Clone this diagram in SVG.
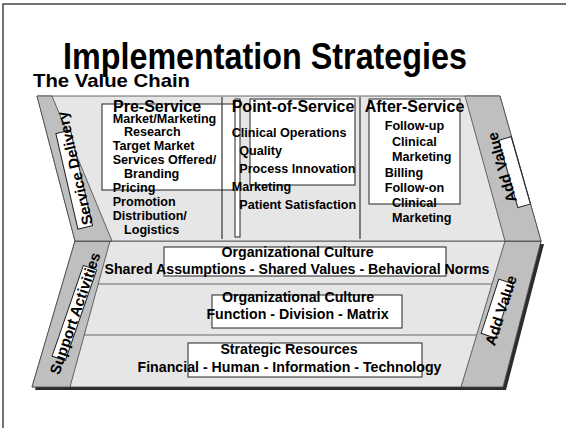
<svg xmlns="http://www.w3.org/2000/svg" width="566" height="428" viewBox="0 0 566 428">
  <style>
    text { font-family: "Liberation Sans", Arial, sans-serif; font-weight: bold; fill: #000; }
    .band { fill: #e6e6e6; stroke: #444; stroke-width: 0.8; }
    .strip { fill: #bfbfbf; stroke: #444; stroke-width: 0.8; }
    .shadow { fill: #2b2b2b; }
    .tbox { fill: #fff; stroke: #222; stroke-width: 1; }
    .div { stroke: #333; stroke-width: 1.2; fill: none; }
    .row { stroke: #666; stroke-width: 1; fill: none; }
    .head { font-size: 16px; }
    .item { font-size: 12.6px; }
    .low { font-size: 14.2px; text-anchor: middle; }
    .side { font-size: 15px; text-anchor: middle; }
    .frame { stroke: #444; stroke-width: 1.5; fill: none; }
  </style>

  <!-- slide frame -->
  <path class="frame" d="M3,428 V4 H566"/>

  <!-- titles -->
  <g id="title">
    <text x="63" y="69" font-size="37" textLength="404" lengthAdjust="spacingAndGlyphs">Implementation Strategies</text>
    <text x="33" y="87" font-size="19" textLength="157" lengthAdjust="spacingAndGlyphs">The Value Chain</text>
  </g>

  <!-- support activities band (lower chevron) -->
  <g id="support-band">
    <polygon class="shadow" points="78,244 544,244 506,390 35,390"/>
    <polygon class="band" points="75,241 541,241 503,387 32,387"/>
    <polygon class="strip" points="75,241 110,241 70,387 32,387"/>
    <polygon class="strip" points="505,241 541,241 503,387 461,387"/>
    <line class="row" x1="98" y1="284" x2="492" y2="284"/>
    <line class="row" x1="84" y1="335" x2="477" y2="335"/>
  </g>

  <!-- service delivery band (upper chevron) -->
  <g id="service-band">
    <polygon class="band" points="37,96 500,96 541,241 75,241"/>
    <polygon class="strip" points="37,96 52,96 112,241 75,241"/>
    <polygon class="strip" points="465,96 500,96 541,241 505,241"/>
  </g>

  <!-- side labels -->
  <g id="label-service-delivery" transform="translate(80,167) rotate(-103)">
    <rect class="tbox" x="-60" y="-16" width="98" height="15"/>
    <text class="side" x="0" y="0">Service Delivery</text>
  </g>
  <g id="label-support-activities" transform="translate(80,315) rotate(-71)">
    <rect class="tbox" x="-48" y="-13" width="96" height="14"/>
    <text class="side" x="0" y="0">Support Activities</text>
  </g>
  <g id="label-add-value-upper" transform="translate(507,166) rotate(-106)">
    <rect class="tbox" x="-43" y="-1" width="70" height="13"/>
    <text class="side" x="0" y="0">Add Value</text>
  </g>
  <g id="label-add-value-lower" transform="translate(506,312) rotate(-72)">
    <rect class="tbox" x="-28" y="-17" width="57" height="15"/>
    <text class="side" x="0" y="0">Add Value</text>
  </g>

  <!-- column boxes and dividers -->
  <g id="column-frames">
    <rect class="tbox" x="102" y="104" width="136" height="86"/>
    <rect class="tbox" x="250" y="99" width="105" height="86"/>
    <rect class="tbox" x="369" y="99" width="91" height="105"/>
    <line class="div" x1="222" y1="97" x2="222" y2="239"/>
    <line class="div" x1="360" y1="97" x2="360" y2="239"/>
    <rect class="tbox" x="235" y="99" width="5" height="138"/>
  </g>

  <g id="pre-service">
    <text class="head" x="113" y="112">Pre-Service</text>
    <text class="item" x="112.7" y="122.5">Market/Marketing</text>
    <text class="item" x="124" y="136.4">Research</text>
    <text class="item" x="112.7" y="150.3">Target Market</text>
    <text class="item" x="112.7" y="164.2">Services Offered/</text>
    <text class="item" x="124" y="178.1">Branding</text>
    <text class="item" x="112.7" y="192">Pricing</text>
    <text class="item" x="112.7" y="205.9">Promotion</text>
    <text class="item" x="112.7" y="219.8">Distribution/</text>
    <text class="item" x="124" y="233.7">Logistics</text>
  </g>

  <g id="point-of-service">
    <text class="head" x="231.7" y="111.7">Point-of-Service</text>
    <text class="item" x="231.7" y="136.5">Clinical Operations</text>
    <text class="item" x="239.3" y="154.5">Quality</text>
    <text class="item" x="239.3" y="172.5">Process Innovation</text>
    <text class="item" x="231.7" y="190.8">Marketing</text>
    <text class="item" x="239.3" y="209.3">Patient Satisfaction</text>
  </g>

  <g id="after-service">
    <text class="head" x="364.7" y="111.7">After-Service</text>
    <text class="item" x="384.7" y="130.3">Follow-up</text>
    <text class="item" x="392" y="145.8">Clinical</text>
    <text class="item" x="392" y="161.2">Marketing</text>
    <text class="item" x="384.7" y="176.7">Billing</text>
    <text class="item" x="384.7" y="192">Follow-on</text>
    <text class="item" x="392" y="207.2">Clinical</text>
    <text class="item" x="392" y="222.2">Marketing</text>
  </g>

  <!-- support rows -->
  <g id="row-culture">
    <rect class="tbox" x="164" y="247" width="282" height="29"/>
    <text class="low" x="297.5" y="257">Organizational Culture</text>
    <text class="low" x="297" y="274">Shared Assumptions - Shared Values - Behavioral Norms</text>
  </g>
  <g id="row-structure">
    <rect class="tbox" x="212" y="295" width="190" height="33"/>
    <text class="low" x="298" y="302">Organizational Culture</text>
    <text class="low" x="297.5" y="319">Function - Division - Matrix</text>
  </g>
  <g id="row-resources">
    <rect class="tbox" x="188" y="343" width="234" height="34"/>
    <text class="low" x="289" y="354">Strategic Resources</text>
    <text class="low" x="289.5" y="372">Financial - Human - Information - Technology</text>
  </g>
</svg>
